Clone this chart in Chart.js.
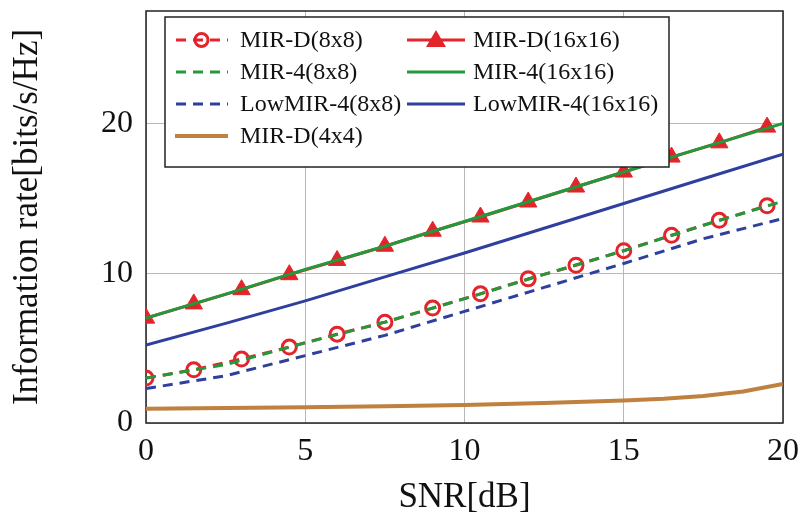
<!DOCTYPE html>
<html>
<head>
<meta charset="utf-8">
<script src="https://cdn.jsdelivr.net/npm/chart.js@4.4.1/dist/chart.umd.min.js"></script>
<style>
  html, body { margin: 0; padding: 0; background: #fff; }
</style>
</head>
<body>
<canvas id="grafico" width="802" height="519"></canvas>
<script>
// SNR positions of the markers and of the smooth curves
const snrMarks = [0, 1.5, 3, 4.5, 6, 7.5, 9, 10.5, 12, 13.5, 15, 16.5, 18, 19.5];
const snrCurve = [0, 2.5, 5, 7.5, 10, 12.5, 15, 17.5, 20];
const snrLow4x4 = [0, 2.5, 5, 7.5, 10, 12.5, 15, 16.25, 17.5, 18.75, 20];

const mirD8 = [3.0, 3.55, 4.27, 5.07, 5.93, 6.73, 7.67, 8.62, 9.62, 10.53, 11.5, 12.53, 13.53, 14.5];
const mirD16 = [7.0, 7.95, 8.9, 9.9, 10.85, 11.8, 12.8, 13.75, 14.75, 15.75, 16.75, 17.75, 18.7, 19.75];
const mir4_8 = [3.0, 3.9, 5.35, 6.73, 8.3, 9.92, 11.5, 13.2, 14.8];
const mir4_16 = [7.0, 8.6, 10.25, 11.8, 13.45, 15.1, 16.75, 18.4, 20.0];
const lowMir4_8 = [2.3, 3.15, 4.5, 5.85, 7.45, 9.05, 10.65, 12.3, 13.65];
const lowMir4_16 = [5.2, 6.65, 8.15, 9.75, 11.35, 13.0, 14.65, 16.3, 17.95];
const mirD4 = [0.95, 1.0, 1.05, 1.12, 1.2, 1.33, 1.5, 1.62, 1.8, 2.1, 2.6];

const xTicks = [0, 5, 10, 15, 20];
const yTicks = [0, 10, 20];

const RED = '#e3242b', GREEN = '#22993a', BLUE = '#2e3f9e', BROWN = '#bf8040';
const SERIF = "Liberation Serif, Times New Roman, serif";
const DASH = [10, 7];

function pts(xs, ys) { return xs.map((x, i) => ({ x: x, y: ys[i] })); }

// legend drawn inside the plot, two columns like pgfplots
const legendBox = {
  id: 'legendBox',
  afterDraw(chart) {
    const ctx = chart.ctx;
    const cols = [{ x0: 175, x1: 228, tx: 240 }, { x0: 407, x1: 465, tx: 473 }];
    const rows = [40, 72, 104, 136];
    const slots = [[0, 0], [1, 0], [0, 1], [1, 1], [0, 2], [1, 2], [0, 3]];
    ctx.save();
    ctx.fillStyle = '#fff';
    ctx.fillRect(165, 17, 504, 150);
    ctx.strokeStyle = '#222';
    ctx.lineWidth = 1.5;
    ctx.strokeRect(165, 17, 504, 150);
    chart.data.datasets.forEach((ds, i) => {
      const c = cols[slots[i][0]], y = rows[slots[i][1]];
      ctx.strokeStyle = ds.borderColor;
      ctx.lineWidth = ds.borderWidth;
      ctx.setLineDash(ds.borderDash || []);
      ctx.lineDashOffset = -1;
      ctx.beginPath();
      ctx.moveTo(c.x0, y);
      ctx.lineTo(c.x1, y);
      ctx.stroke();
      ctx.setLineDash([]);
      const mx = (c.x0 + c.x1) / 2;
      if (ds.pointStyle === 'circle' && ds.pointRadius > 0) {
        ctx.strokeStyle = ds.pointBorderColor;
        ctx.lineWidth = ds.pointBorderWidth;
        ctx.beginPath();
        ctx.arc(mx, y, 6.5, 0, Math.PI * 2);
        ctx.stroke();
      } else if (ds.pointStyle === 'triangle' && ds.pointRadius > 0) {
        ctx.fillStyle = ds.pointBackgroundColor;
        ctx.beginPath();
        ctx.moveTo(mx, y - 10);
        ctx.lineTo(mx + 10, y + 7);
        ctx.lineTo(mx - 10, y + 7);
        ctx.closePath();
        ctx.fill();
      }
      ctx.fillStyle = '#111';
      ctx.font = '24px ' + SERIF;
      ctx.textBaseline = 'middle';
      ctx.fillText(ds.label, c.tx, y + 1);
    });
    ctx.restore();
  }
};

// closed frame round the plot area
const frame = {
  id: 'frame',
  beforeDatasetsDraw(chart) {
    const a = chart.chartArea, ctx = chart.ctx;
    ctx.save();
    ctx.strokeStyle = '#222';
    ctx.lineWidth = 1.5;
    ctx.strokeRect(a.left, a.top, a.right - a.left, a.bottom - a.top);
    ctx.restore();
  }
};

const ctxGrafico = document.getElementById('grafico').getContext('2d');
const grafico = new Chart(ctxGrafico, {
  type: 'scatter',
  data: {
    datasets: [
      {
        label: 'MIR-D(8x8)', data: pts(snrMarks, mirD8), showLine: true,
        borderColor: RED, borderWidth: 3, borderDash: DASH,
        pointStyle: 'circle', pointRadius: 7, pointBorderWidth: 3,
        pointBorderColor: RED, pointBackgroundColor: 'rgba(255,255,255,0)', order: 6
      },
      {
        label: 'MIR-D(16x16)', data: pts(snrMarks, mirD16), showLine: true,
        borderColor: RED, borderWidth: 3,
        pointStyle: 'triangle', pointRadius: 10, pointBorderWidth: 1,
        pointBorderColor: RED, pointBackgroundColor: RED, order: 5
      },
      {
        label: 'MIR-4(8x8)', data: pts(snrCurve, mir4_8), showLine: true,
        borderColor: GREEN, borderWidth: 3, borderDash: DASH, pointRadius: 0, order: 2
      },
      {
        label: 'MIR-4(16x16)', data: pts(snrCurve, mir4_16), showLine: true,
        borderColor: GREEN, borderWidth: 3, pointRadius: 0, order: 2
      },
      {
        label: 'LowMIR-4(8x8)', data: pts(snrCurve, lowMir4_8), showLine: true,
        borderColor: BLUE, borderWidth: 3, borderDash: DASH, pointRadius: 0, order: 3
      },
      {
        label: 'LowMIR-4(16x16)', data: pts(snrCurve, lowMir4_16), showLine: true,
        borderColor: BLUE, borderWidth: 3, pointRadius: 0, order: 3
      },
      {
        label: 'MIR-D(4x4)', data: pts(snrLow4x4, mirD4), showLine: true,
        borderColor: BROWN, borderWidth: 4, pointRadius: 0, order: 3
      }
    ]
  },
  options: {
    responsive: false,
    animation: false,
    layout: { padding: { top: 3, right: 19, left: 0, bottom: 0 } },
    plugins: { legend: { display: false }, tooltip: { enabled: false } },
    scales: {
      x: {
        type: 'linear', min: 0, max: 20,
        afterBuildTicks: s => { s.ticks = xTicks.map(v => ({ value: v })); },
        afterFit: s => { s.height = 96; s.paddingLeft = 0; s.paddingRight = 0; },
        grid: { color: '#b8b8b8', lineWidth: 1, drawTicks: false },
        border: { display: false },
        ticks: { color: '#111', padding: 9, font: { family: SERIF, size: 32 } },
        title: { display: true, text: 'SNR[dB]', color: '#111',
                 font: { family: SERIF, size: 35 }, padding: { top: 0, bottom: 0 } }
      },
      y: {
        type: 'linear', min: 0, max: 27.5,
        afterBuildTicks: s => { s.ticks = yTicks.map(v => ({ value: v })); },
        afterFit: s => { s.width = 146; s.paddingTop = 0; s.paddingBottom = 0; },
        grid: { color: '#b8b8b8', lineWidth: 1, drawTicks: false },
        border: { display: false },
        ticks: { color: '#111', padding: 13, font: { family: SERIF, size: 32 } },
        title: { display: true, text: 'Information rate[bits/s/Hz]', color: '#111',
                 font: { family: SERIF, size: 35 }, padding: { top: 7, bottom: 0 } }
      }
    }
  },
  plugins: [frame, legendBox]
});
</script>
</body>
</html>
